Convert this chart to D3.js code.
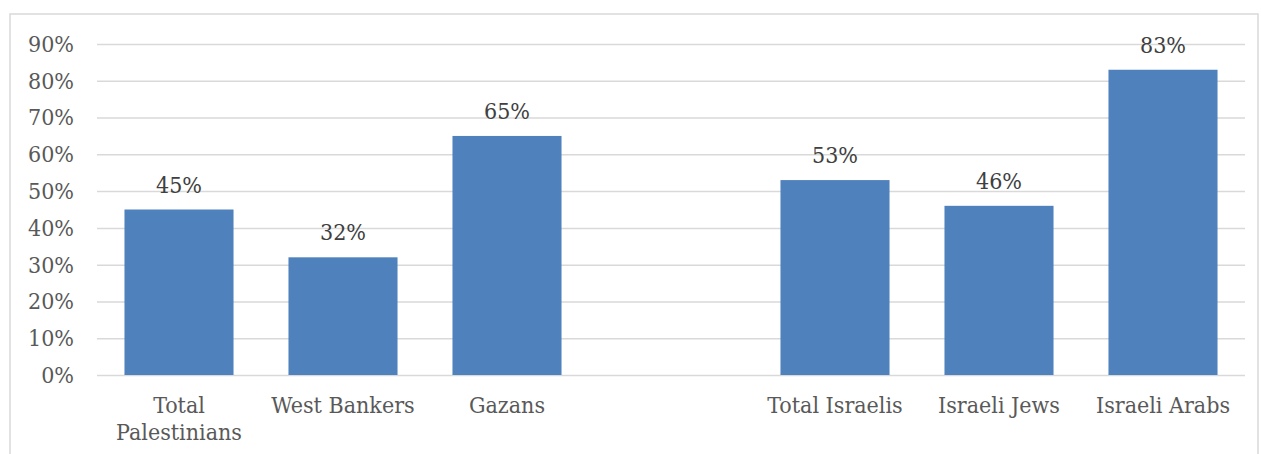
<!DOCTYPE html>
<html><head><meta charset="utf-8">
<script src="https://cdn.jsdelivr.net/npm/d3@7"></script>
<style>body{margin:0;background:#fff;} text{font-family:"DejaVu Serif Condensed","DejaVu Serif",serif;font-stretch:condensed;}</style>
</head><body>
<svg id="c" width="1261" height="454"></svg>
<script>
const categories = ["Total Palestinians","West Bankers","Gazans","","Total Israelis","Israeli Jews","Israeli Arabs"];
const values = [45, 32, 65, null, 53, 46, 83];
const tickValues = [0,10,20,30,40,50,60,70,80,90];

const FS = "23px";
const svg = d3.select("#c");
const m = {left:97, right:1245, top:44, bottom:375};

svg.append("rect").attr("x",10).attr("y",14).attr("width",1248).attr("height",470)
  .attr("fill","none").attr("stroke","#d9d9d9").attr("stroke-width",1.5);

const x = d3.scaleBand().domain(categories.map((c,i)=>i)).range([m.left,m.right]).paddingInner(0.335).paddingOuter(0.335/2);
const y = d3.scaleLinear().domain([0,90]).range([m.bottom,m.top]);

const yAxis = d3.axisLeft(y).tickValues(tickValues).tickFormat(d=>d+"%").tickSize(-(m.right-m.left)).tickPadding(23);
const gy = svg.append("g").attr("transform",`translate(${m.left},0)`).call(yAxis);
gy.select(".domain").remove();
gy.selectAll(".tick line").attr("stroke","#d9d9d9").attr("stroke-width",1.5);
gy.selectAll(".tick text").attr("fill","#595959").style("font-size",FS).style("font-family",null);

const data = categories.map((c,i)=>({c,i,v:values[i]})).filter(d=>d.v!=null);

svg.selectAll("rect.bar").data(data).join("rect").attr("class","bar")
  .attr("x",d=>x(d.i)).attr("width",x.bandwidth())
  .attr("y",d=>y(d.v)).attr("height",d=>y(0)-y(d.v))
  .attr("fill","#4f81bd");

svg.selectAll("text.val").data(data).join("text").attr("class","val")
  .attr("x",d=>x(d.i)+x.bandwidth()/2).attr("y",d=>y(d.v)-17)
  .attr("text-anchor","middle").attr("fill","#404040").style("font-size",FS)
  .text(d=>d.v+"%");

const step = x.step();
categories.forEach((c,i)=>{
  if(!c) return;
  const t = svg.append("text").attr("text-anchor","middle").attr("fill","#595959").style("font-size",FS)
    .attr("x",x(i)+x.bandwidth()/2).attr("y",413);
  const words = c.split(" ");
  let lines=[], cur=[];
  const tmp = svg.append("text").style("font-size",FS);
  words.forEach(w=>{
    const test = cur.concat([w]).join(" ");
    tmp.text(test);
    if(tmp.node().getComputedTextLength()>step-10 && cur.length){ lines.push(cur.join(" ")); cur=[w]; }
    else cur.push(w);
  });
  lines.push(cur.join(" "));
  tmp.remove();
  lines.forEach((l,k)=>t.append("tspan").attr("x",x(i)+x.bandwidth()/2).attr("dy",k?27:0).text(l));
});
</script>
</body></html>
